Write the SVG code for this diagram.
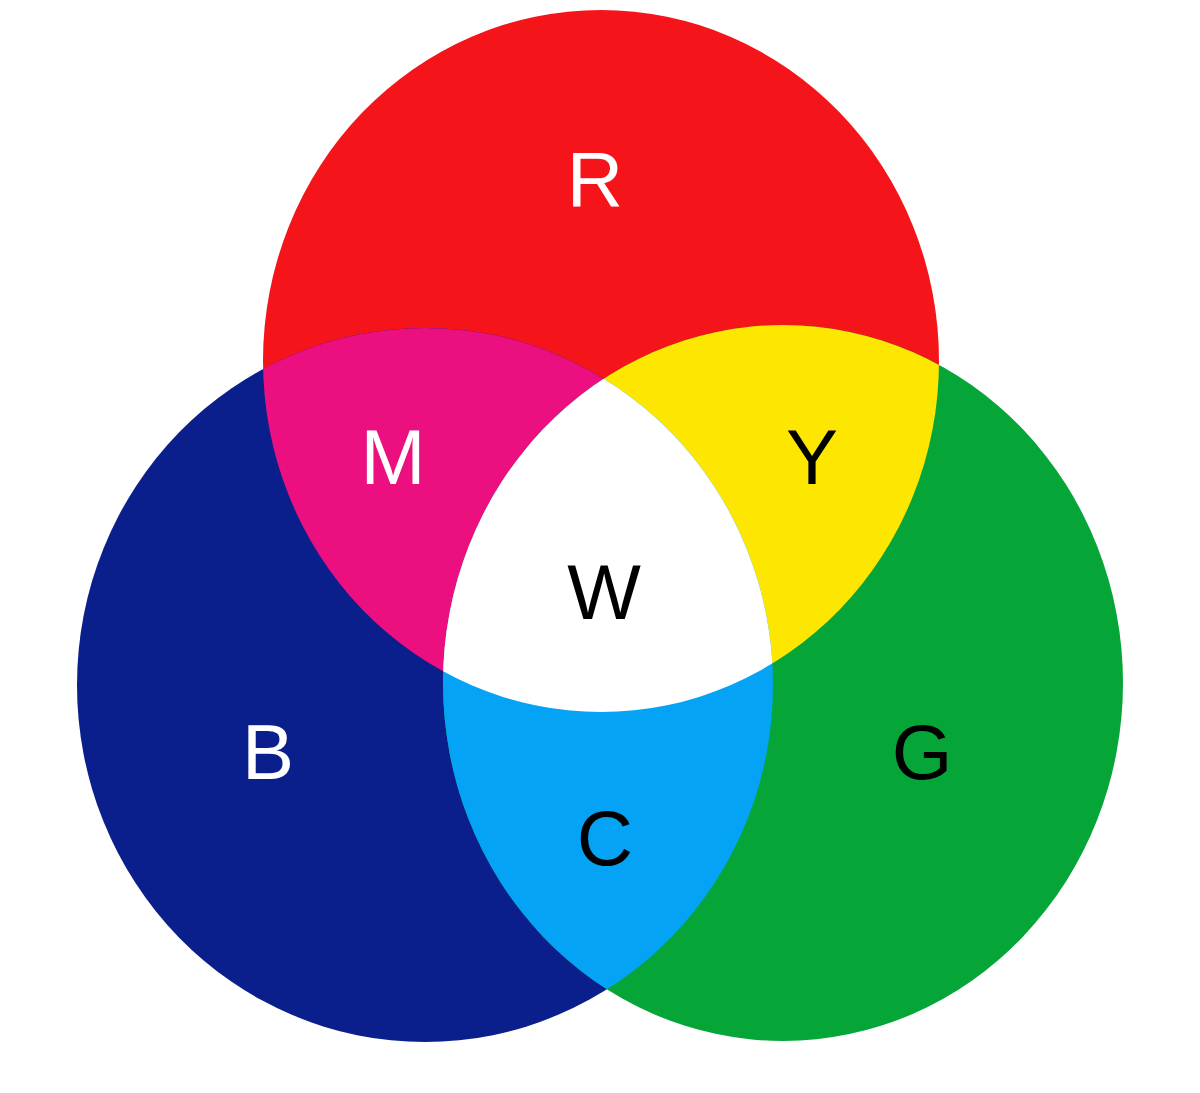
<svg xmlns="http://www.w3.org/2000/svg" width="1200" height="1093" viewBox="0 0 1200 1093">
<style>
text{font-family:"Liberation Sans",Arial,sans-serif;font-size:78px;text-anchor:middle}
.w{fill:#fff}.k{fill:#000}
</style>
<defs>
<clipPath id="cr"><ellipse cx="601" cy="361" rx="338" ry="351"/></clipPath>
<clipPath id="cb"><ellipse cx="425" cy="685" rx="348" ry="357"/></clipPath>
</defs>
<rect width="1200" height="1093" fill="#fff"/>
<g id="red"><ellipse cx="601" cy="361" rx="338" ry="351" fill="#F5141A"/></g>
<g id="blue"><ellipse cx="425" cy="685" rx="348" ry="357" fill="#0A1E8C"/></g>
<g id="green"><ellipse cx="783" cy="683" rx="340" ry="358" fill="#05A538"/></g>
<g id="magenta" clip-path="url(#cr)"><ellipse cx="425" cy="685" rx="348" ry="357" fill="#EC0F80"/></g>
<g id="yellow" clip-path="url(#cr)"><ellipse cx="783" cy="683" rx="340" ry="358" fill="#FDE600"/></g>
<g id="cyan" clip-path="url(#cb)"><ellipse cx="783" cy="683" rx="340" ry="358" fill="#04A3F5"/></g>
<g id="white" clip-path="url(#cr)"><g clip-path="url(#cb)"><ellipse cx="783" cy="683" rx="340" ry="358" fill="#fff"/></g></g>
<g id="labels">
<text x="595" y="206" class="w">R</text>
<text x="393" y="484" class="w">M</text>
<text x="812" y="484" class="k">Y</text>
<text x="604" y="619" class="k">W</text>
<text x="268" y="779" class="w">B</text>
<text x="922" y="779" class="k">G</text>
<text x="605" y="865" class="k">C</text>
</g>
</svg>
